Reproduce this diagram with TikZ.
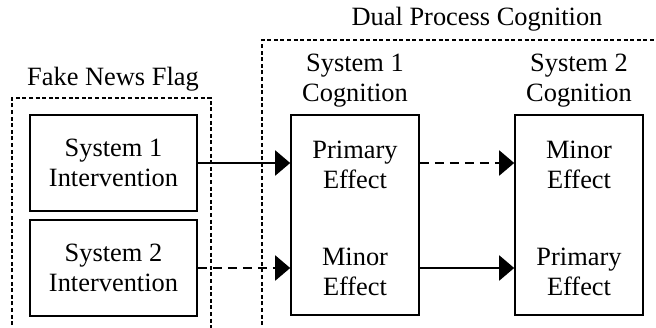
\documentclass[tikz,border=0pt]{standalone}
\usepackage{fontspec}
\setmainfont{Liberation Serif}
\usetikzlibrary{arrows.meta}
\begin{document}
\begin{tikzpicture}[x=0.5pt,y=-0.5pt,
 txt/.style={font=\fontsize{13.2pt}{15pt}\selectfont, align=center, inner sep=0pt},
 solidbox/.style={draw, line width=0.8pt, inner sep=0pt},
 ibox/.style={solidbox, minimum width=83.5pt, minimum height=48pt, txt},
 cbox/.style={solidbox, minimum width=64pt, minimum height=100pt},
 group/.style={draw, line width=0.6pt, dash pattern=on 2pt off 1.3pt},
 arr/.style={line width=1pt, -{Triangle[length=7.5pt,width=12.5pt]}},
 darr/.style={arr, dash pattern=on 4.5pt off 3pt}]
\useasboundingbox (0,0) rectangle (656,327);
% group frames
\draw[group] (12,345) |- (211,98) -- (211,345);
\draw[group] (262,345) |- (675,40);
\node[txt] (fnf) at (113,79) {Fake News Flag};
\node[txt] (dpc) at (477,19) {Dual Process Cognition};
% intervention boxes
\node[ibox] (i1) at (113.5,163) {System 1\\Intervention};
\node[ibox] (i2) at (113.5,268) {System 2\\Intervention};
% cognition boxes
\node[cbox] (c1) at (355,215) {};
\node[cbox] (c2) at (579,215) {};
\node[txt] (h1) at (355,81) {System 1\\Cognition};
\node[txt] (h2) at (579,81) {System 2\\Cognition};
\node[txt] (p1) at (355,165) {Primary\\Effect};
\node[txt] (m1) at (355,272) {Minor\\Effect};
\node[txt] (m2) at (579,165) {Minor\\Effect};
\node[txt] (p2) at (579,272) {Primary\\Effect};
% arrows
\draw[arr] (i1.east) -- (c1.west |- i1.east);
\draw[darr] (i2.east) -- (c1.west |- i2.east);
\draw[darr] (c1.east |- i1.east) -- (c2.west |- i1.east);
\draw[arr] (c1.east |- i2.east) -- (c2.west |- i2.east);
\end{tikzpicture}
\end{document}
